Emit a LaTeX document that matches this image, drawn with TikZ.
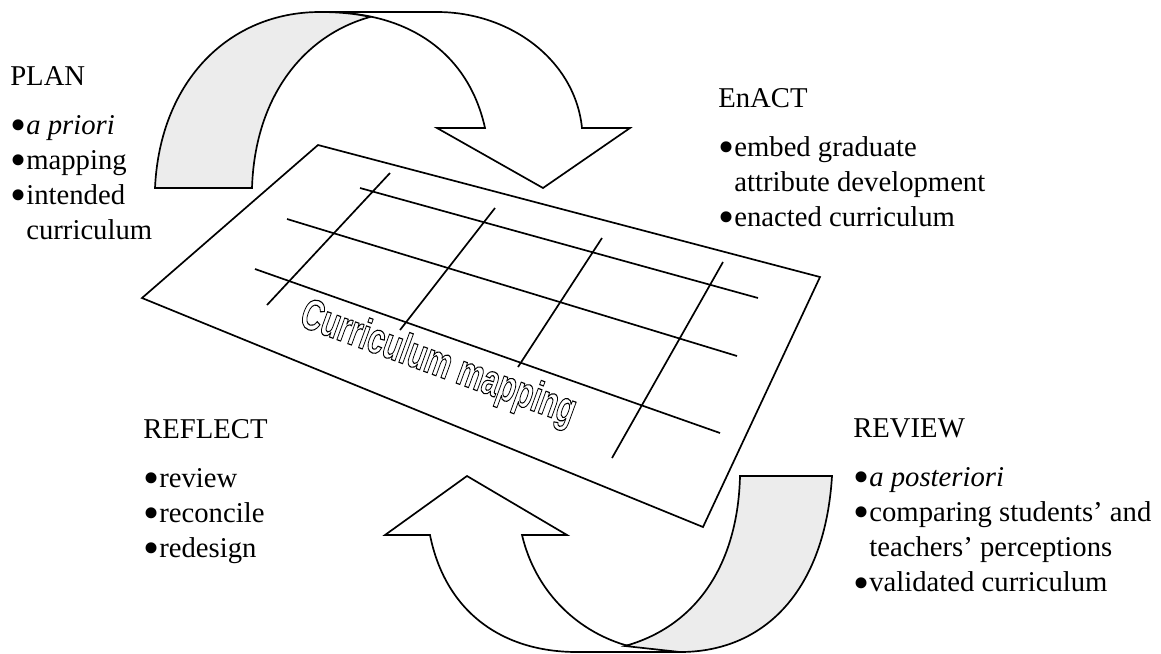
\documentclass[tikz,border=0pt]{standalone}
\usepackage{fontspec}
\setmainfont{Liberation Serif}
\newfontfamily\titlefont{Liberation Sans}
\usepackage{graphicx}
\usepackage{xcolor}
\usepackage{tikz}
\usetikzlibrary{positioning}
\newcommand{\bul}{\raisebox{-0.22em}{\scalebox{1.6}{\textbullet}}}
\newcommand{\hollow}[1]{\special{pdf:literal direct 1 Tr 0.8 w}#1\special{pdf:literal direct 0 Tr}}
\tikzset{
  band/.style={draw, line width=1.2pt, fill=gray!15},
  face/.style={draw, line width=1.2pt, fill=white},
  sheet/.style={draw, line width=1.2pt},
  stage/.style={anchor=base west, inner sep=0pt, font=\fontsize{20.4}{25}\selectfont}
}

\begin{document}
\begin{tikzpicture}[x=0.025cm, y=-0.025cm]
    \useasboundingbox (0,0) rectangle (1161,653);

    % Mũi tên phía trên
    \draw[face] (320,12) -- (437,12) .. controls (510,12) and (575,60) .. (582,128)
        -- (630,128) -- (543,188) -- (437,128) -- (485,128)
        .. controls (470,60) and (420,22) .. (355,14) -- cycle;
    \draw[band] (155,188) .. controls (160,80) and (230,12) .. (320,12)
        .. controls (340,12) and (358,14) .. (370,17)
        .. controls (305,35) and (255,95) .. (252,188) -- cycle;

    % Mũi tên phía dưới
    \draw[face] (385,535) -- (467,476) -- (567,535) -- (522,535)
        .. controls (535,590) and (575,630) .. (625,645) -- (680,652) -- (577,652)
        .. controls (500,652) and (445,610) .. (430,535) -- cycle;
    \draw[band] (740,476) -- (832,476) .. controls (825,590) and (765,652) .. (680,652)
        -- (625,646) .. controls (700,625) and (738,560) .. (740,476) -- cycle;

    % Tấm bản đồ
    \coordinate (tl) at (318,145);
    \coordinate (tr) at (820,277);
    \coordinate (br) at (703,527);
    \coordinate (bl) at (142,298);
    \draw[sheet] (tl) -- (tr) -- (br) -- (bl) -- cycle;

    % Lưới
    \foreach \xa/\ya/\xb/\yb in {360/188/758/298, 287/219/737/356, 255/269/720/433,
                                 390/173/267/305, 495/208/400/330, 602/238/518/367,
                                 723/262/612/458} {
        \draw[sheet] (\xa,\ya) -- (\xb,\yb);
    }

    % Tiêu đề
    \node[rotate=-20, anchor=base, inner sep=0pt] (title) at (434,375)
        {\scalebox{0.68}[1]{\titlefont\bfseries\fontsize{31}{34}\selectfont
         \hollow{Curriculum mapping}}};

    % Các giai đoạn
    \node[stage] (plan) at (10,85) {\begin{tabular}[t]{@{}l@{}}PLAN\\[10pt]
        \bul\textit{a priori}\\
        \bul mapping\\
        \bul intended\\
        \phantom{\bul}curriculum\end{tabular}};
    \node[stage] (enact) at (718,107) {\begin{tabular}[t]{@{}l@{}}EnACT\\[10pt]
        \bul embed graduate\\
        \phantom{\bul}attribute development\\
        \bul enacted curriculum\end{tabular}};
    \node[stage] (reflect) at (143,438) {\begin{tabular}[t]{@{}l@{}}REFLECT\\[10pt]
        \bul review\\
        \bul reconcile\\
        \bul redesign\end{tabular}};
    \node[stage] (review) at (853,437) {\begin{tabular}[t]{@{}l@{}}REVIEW\\[10pt]
        \bul\textit{a posteriori}\\
        \bul comparing students' and\\
        \phantom{\bul}teachers' perceptions\\
        \bul validated curriculum\end{tabular}};
\end{tikzpicture}
\end{document}
